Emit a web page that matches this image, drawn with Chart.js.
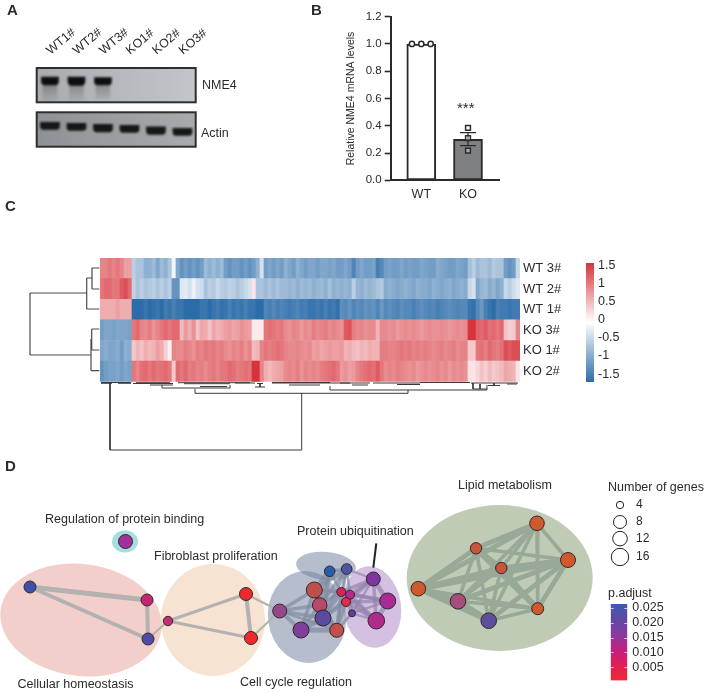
<!DOCTYPE html>
<html>
<head>
<meta charset="utf-8">
<script src="https://cdn.jsdelivr.net/npm/chart.js@4"></script>
<style>
  html, body { margin: 0; background: #fff; }
  #page { position: relative; width: 705px; height: 693px; overflow: hidden; font-family: "Liberation Sans", Arial, sans-serif; color: #2b2b2b; }
  #page canvas { position: absolute; left: 0; top: 0; }
  .t { position: absolute; white-space: nowrap; transform: translateY(-50%); line-height: 1; }
</style>
</head>
<body>
<div id="page"></div>
<script>
// A: blots, band edges are in px down from the top of each blot
const lanes = ['WT1#', 'WT2#', 'WT3#', 'KO1#', 'KO2#', 'KO3#'];
const nme4Bands = [[9, 17], [9, 17.5], [9.5, 17], null, null, null];
const nme4Smear = [[16, 33], [16, 33], [16, 31], null, null, null];
const actinBands = [[10, 17], [11, 18], [12, 19.5], [13, 20], [14.5, 22], [16, 23]];

// B: qPCR
const wtMean = 1.0;
const koMean = 0.3;
const koError = [0.255, 0.35];
const wtX = [-0.2, 0, 0.2];
const wtPoints = [1, 1, 1];
const koPoints = [0.385, 0.309, 0.218];
const groupTicks = ['WT', 'KO'];

// C: heatmap, top row first
const heatRows = ['WT 3#', 'WT 2#', 'WT 1#', 'KO 3#', 'KO 1#', 'KO 2#'];
const wt3 = [.9,.9,1,.9,1,.9,.7,.7, -.5,-.6,-.6,-.8,-.8,-.7,-.9,-.7,-.8,-.6, -.1,-.9, -1.1,-1,-1.1,-1,-1.1,-1, -.7,-.8,-.7,-.8,-.7, -1,-1.1,-1,-1,-1.1,-1,-1.1,-1, -.8,-.3, -1,-.9,-1,-.9,-1, -.8,-.9,-1,-.8,-.9,-1,-.9, -.9,-1,-.9,-.9,-.95,-.9,-1, -1,-.9,-1,-1.25,-1,-.9,-1,-1,-.95, -1.3,-1.2, -1,-.95,-1,-1,-.9,-1,-.95,-1,-1,-.9,-.95,-1,-1,-.85,-.9,-.95,-1,-1,-.9,-.95,-1, -.65,-.5, -.7,-.6,-.6,-.7,-.55,-.6,-.6, -1,-1.1,-1, -.4];
const wt2 = [1,1.1,1.1,1,1,1.2,1.3,1.1, -.45,-.6,-.5,-.6,-.55,-.5,-.6,-.5,-.6,-.5, -1.1,-1.1, -.25,-.2,-.3,-.15,-.3,-.35, -.6,-.5,-.55,-.4,-.5, -.55,-.45,-.5,-.6,-.5,-.4,-.3,.2, -.6,-.6, -.7,-.6,-.7,-.6,-.7, -.7,-.75,-.7,-.8,-.7,-.75,-.7, -.8,-.75,-.7,-.8,-.65,-.8,-.75, -.8,-.75,-.8,-.5,-.75,-.8,-.7,-.75,-.7, -.6,-.55, -.85,-.8,-.85,-.9,-.85,-.8,-.85,-.9,-.8,-.85,-.85,-.9,-.8,-.85,-.9,-.85,-.8,-.9,-.85,-.8,-.85, -.4,-.3, -.9,-.75,-.7,-.85,-.75,-.9,-.8, -.4,-.5,-.35, -.25];
const wt1 = [.6,.6,.6,.6,.7,.6,.6,.6, -1.5,-1.6,-1.5,-1.4,-1.5,-1.45,-1.4,-1.5,-1.35,-1.4, -1.3,-1.4, -1.4,-1.5,-1.6,-1.6,-1.5,-1.4, -1.4,-1.5,-1.4,-1.35,-1.45, -1.4,-1.3,-1.4,-1.35,-1.4,-1.3,-1.4,-1.4, -1.6,-1.6, -1.25,-1.3,-1.2,-1.3,-1.25, -1.3,-1.35,-1.3,-1.25,-1.35,-1.3,-1.4, -1.4,-1.35,-1.4,-1.3,-1.4,-1.35,-1.45, -1.15,-1.2,-1.1,-1.25,-1.15,-1.2,-1.1,-1.15,-1.1, -1.25,-1.05, -1.2,-1.15,-1.2,-1.25,-1.15,-1.2,-1.2,-1.3,-1.2,-1.15,-1.2,-1.25,-1.2,-1.3,-1.25,-1.2,-1.15,-1.2,-1.25,-1.2,-1.2, -1.4,-1.45, -1.2,-1.05,-1.3,-1.4,-1.5,-1.3,-1.35, -1.35,-1.4,-1.35, -1.35];
const ko3 = [-1,-.9,-.9,-.95,-.9,-.9,-.9,-.95, 1,1.1,.9,.85,.95,.8,.9,1,1.1,1, 1.1,1.1, .5,.75,.6,.8,.45,.65, .6,.45,.65,.55,.6, .7,.75,.65,.7,.8,.75,.7,.15, .15,.15, 1,1.05,1,.95,1, .85,.8,.9,.85,.75,.85,.8, .95,.85,.9,.95,.85,.9,.85, .8,1.2,1.25,.95,.85,.9,.8,.85,.85, .55,.85, .85,.8,.85,.75,.8,.85,.8,.85,.8,.75,.8,.85,.8,.8,.85,.8,.75,.8,.85,.8,.85, 1.6,1.55, 1.15,1.1,1.2,1.05,1.1,1,1.1, .45,.35,.4, .9];
const ko1 = [-.9,-.85,-.9,-.9,-.85,-1,-.8,-.85, .4,.55,.45,.6,.5,.55,.7,.6,.35,.1, .9,.85, .85,.95,.9,.8,.95,.9, 1,.95,1,.9,.95, .85,.8,.9,.85,.95,.8,.9,.5, .55,.9, 1,.95,1,1.05,1, .9,.85,.85,.9,.85,.8,.85, .7,.75,.65,.7,.75,.7,.7, .75,.55,.6,.5,.45,.55,.5,.6,.55, .55,.95, .95,.9,.9,.95,1,.95,1,.9,.95,.9,.95,.9,.85,.9,.95,.85,.9,.95,.85,.9,.9, .4,.4, 1,1.05,.95,1.1,1,.95,1.05, 1.3,1.2,1.3, 1.3];
const ko2 = [-1.1,-1,-.95,-.95,-.9,-1,-.9,-.95, 1,.9,1.05,1.1,1,1.1,1,1.05,1.1,1, .4,1.1, 1,1.1,.95,1,.9,.95, .85,.95,1,.9,1, 1,1.1,1.05,.95,1,1.05,1,1.6, 1.55,.9, .6,.5,.6,.65,.7, .85,.9,.85,.95,.8,.9,.85, .9,.85,.95,1,1.05,1.1,1, .75,.8,.7,.75,.9,1,1.05,1.1,1.05, 1.2,1, .85,.9,.85,.95,.9,.85,.8,.85,.75,.8,.85,.8,.85,.9,.8,.85,.75,.85,.8,.85,.8, .2,.2, .3,.45,.35,.5,.4,.45,.5, .65,.6,.55, .2];
const heatTicks = [1.5, 1, 0.5, 0, -0.5, -1, -1.5];

// C: dendrograms as [x1, y1, x2, y2]
const rowTree = [
  [30,293,30,355],[30,293,86.7,293],[30,355,91,355],
  [86.7,278,86.7,309],[86.7,309,99.3,309],[86.7,278,92,278],
  [92,268,92,289],[92,268,99.3,268],[92,289,99.3,289],
  [91,339,91,370.7],[91,370.7,99.3,370.7],[91.7,329,91.7,350],[91.7,329,99.3,329],[91.7,350,99.3,350]
];
const colTree = [
  [110,383,110,450],[110,450,301.7,450],[301.7,450,301.7,393.3],[195,393.3,408,393.3],
  [195,393.3,195,389],[162,388,230,388],[162,388,162,385],[230,388,230,385],
  [408,393.3,408,390],[330,390,487,390],[330,390,330,386],[487,390,487,385],
  [101,382.5,131,382.5],[101,383.3,112,383.3],[118,383.3,131,383.3],[133,383.5,173,383.5],[136,382.7,170,382.7],[150,385,173,385],[184,383.7,230,383.7],[178,382.7,250,382.7],
  [200,386.5,227,386.5],[235,383,255,383],[257,383.5,263,383.5],[260,383.5,260,387],[255,387,265,387],[272,383,350,383],[272,382.5,330,382.5],
  [289,385,320,385],[340,383,370,383],[352,385,368,385],[373,383,420,383],[397,384.5,420,384.5],
  [420,382.5,470,382.5],[471,383,518,383],[473,389,487,389],[473,383,473,389],
  [488,385.5,500,385.5],[507,384,517,384],[480,384,480,389],[494,383,494,386]
];

// D: enrichment map, node layout
const nodeX = [125.5,30,147,148,168,246,251,279.7,314.3,319.7,323,301,336.7,329.7,346.7,341.3,350,346,352,373.3,387.7,376.3,537,476,568,501.3,418.3,458,537.7,488.7];
const nodeY = [541.5,587,600,639,621,594,638,611,590,605,618,630,630.3,571.3,569,592,594.7,602,613.3,579,601,620.7,523.3,548.3,560,568,588.7,601.3,608.7,620.7];
const nodeR = [7,6,6,6,4.7,6.5,6.5,7,8,7.3,8,8,7,5.3,5.3,4.5,4.5,4.5,3.5,7,8,8.3,7.3,5.7,7.5,5.7,7.3,7.8,6,7.8];
const nodeColor = ['#a0309a','#3d4fa8','#c4256f','#4f4aa4','#c22f78','#ee2a2e','#ee2a2e','#944a8a','#bf4f4a','#b64a6a','#5a4aa0','#7e4098','#c0504a','#2a5ea8','#4d55a5','#d4245a','#b82a8a','#e52a4a','#6a3aa0','#7d35a0','#a82c94','#b02c8c','#cf5a2c','#c9553a','#d05a2c','#c9553a','#cf5a2c','#a84c7c','#cf5a2c','#5f4f9a'];
// edges: [from, to, weight]
const edgesOuter = [[1,2,5],[1,3,4],[2,3,4],[3,4,2],[4,5,3],[4,6,3],[5,6,4],[5,7,2],[6,7,2]];
const edgesCycle = [[7,8,3],[7,9,3],[7,10,3],[7,11,3],[7,12,2],[8,9,4],[8,10,4],[8,11,3],[8,12,3],[9,10,4],[9,11,3],[9,12,3],[10,11,4],[10,12,4],[11,12,4],[8,13,4],[8,14,3],[9,13,3],[9,14,3],[10,13,3],[10,14,3],[13,14,3],[12,14,2],[8,15,3],[9,15,3],[10,15,3],[10,16,2],[10,17,3],[12,17,3],[12,15,3],[12,18,2],[13,15,2],[14,15,2],[14,16,2],[15,16,2],[15,17,2],[16,17,2],[16,18,2],[17,18,2]];
const edgesUbiq = [[15,19,3],[16,19,3],[17,19,3],[18,19,2],[15,20,3],[16,20,3],[17,20,3],[18,20,2],[15,21,3],[16,21,3],[17,21,3],[18,21,2],[19,20,4],[19,21,3],[20,21,4],[14,19,2]];
const edgesLipid = [[22,23,4],[22,24,3],[22,25,3],[22,26,4],[22,27,3],[22,28,3],[22,29,3],[23,24,3],[23,25,4],[23,26,4],[23,27,3],[23,28,5],[23,29,3],[24,25,4],[24,26,5],[24,27,4],[24,28,4],[24,29,4],[25,26,4],[25,27,3],[25,28,4],[25,29,3],[26,27,4],[26,28,3],[26,29,4],[27,28,3],[27,29,5],[28,29,3]];
// cluster hulls: [cx, cy, rx, ry, tilt deg, fill]
const hulls = [
  [81,620,81,56,7,'rgba(230,160,150,.5)'],
  [213,620,52,56,0,'rgba(238,200,165,.5)'],
  [125,541.5,13,11,0,'rgba(75,190,190,.5)'],
  [307,617,39,46,-8,'rgba(110,125,155,.5)'],
  [326,566,30,14,5,'rgba(110,125,155,.5)'],
  [372,607,29,41,-8,'rgba(170,130,195,.5)'],
  [499.7,578,93,73,0,'rgba(128,152,108,.5)']
];
const geneCounts = [4, 8, 12, 16];
const geneY = [505, 522, 538.6, 557];
const geneR = [3.7, 6.5, 7.3, 8.7];
const pTicks = [0.025, 0.02, 0.015, 0.01, 0.005];

const page = document.getElementById('page');
Chart.defaults.font.family = '"Liberation Sans", Arial, sans-serif';
Chart.defaults.color = '#2b2b2b';
Chart.defaults.animation = false;
Chart.defaults.responsive = false;
Chart.defaults.plugins.legend.display = false;
Chart.defaults.plugins.tooltip.enabled = false;

function canvas() {
  const c = document.createElement('canvas');
  c.width = 705;
  c.height = 693;
  page.appendChild(c);
  return c;
}
// pins the plot area to a rectangle of the page. The axis gets a fixed size, so
// the padding on that side leaves out what the axis takes
const area = (l, t, r, b, side, size) => {
  const p = { left: l, top: t, right: 705 - r, bottom: 693 - b };
  if (side) p[side] -= size;
  return { padding: p, autoPadding: false };
};
const sized = n => s => { if (s.isHorizontal()) s.height = n; else s.width = n; };
const setTicks = vals => s => { s.ticks = vals.map(v => ({ value: v })); };
const noAxis = { display: false };

// A
const blot = {
  id: 'blot',
  beforeDatasetsDraw(chart, args, o) {
    const { ctx, chartArea: a } = chart;
    const g = ctx.createLinearGradient(a.left, 0, a.right, 0);
    g.addColorStop(0, o.from);
    g.addColorStop(1, o.to);
    ctx.save();
    ctx.fillStyle = g;
    ctx.fillRect(a.left, a.top, a.width, a.height);
    ctx.restore();
    ctx.save();
    ctx.filter = 'blur(1.2px)';
  },
  afterDatasetsDraw(chart) {
    const { ctx, chartArea: a } = chart;
    ctx.restore();
    ctx.save();
    ctx.strokeStyle = '#2e2e2e';
    ctx.lineWidth = 2;
    ctx.strokeRect(a.left, a.top, a.width, a.height);
    ctx.restore();
  }
};
function smearFill(c) {
  const a = c.chart.chartArea;
  if (!a) return 'rgba(60,60,60,.3)';
  const g = c.chart.ctx.createLinearGradient(0, a.top + 14, 0, a.bottom);
  g.addColorStop(0, 'rgba(50,50,50,.38)');
  g.addColorStop(1, 'rgba(90,90,90,.06)');
  return g;
}
new Chart(canvas(), {
  type: 'bar',
  plugins: [blot],
  data: {
    labels: lanes,
    datasets: [
      { data: nme4Bands, backgroundColor: '#0c0e10', barThickness: 17, borderRadius: 5, grouped: false, order: 0 },
      { data: nme4Smear, backgroundColor: smearFill, barThickness: 14, grouped: false, order: 1 }
    ]
  },
  options: {
    layout: area(36.7, 68, 195.7, 102.3, 'top', 60),
    plugins: { blot: { from: '#a8acae', to: '#c2c6c8' } },
    scales: {
      x: {
        position: 'top', afterFit: sized(60),
        grid: { display: false, drawTicks: false }, border: { display: false },
        ticks: { minRotation: 40, maxRotation: 40, autoSkip: false, padding: 10, labelOffset: 8, font: { size: 12.5 }, color: '#2b2b2b' }
      },
      y: { display: false, reverse: true, min: 0, max: 34.3 }
    }
  }
});
new Chart(canvas(), {
  type: 'bar',
  plugins: [blot],
  data: {
    labels: lanes,
    datasets: [{ data: actinBands, backgroundColor: '#141618', barThickness: 19, borderRadius: 4 }]
  },
  options: {
    layout: area(36.7, 112.3, 195.7, 146.7),
    plugins: { blot: { from: '#8e9294', to: '#a8abad' } },
    scales: { x: noAxis, y: { display: false, reverse: true, min: 0, max: 34.4 } }
  }
});

// B
const ink = '#2a2a2a';
const errorTrack = [
  { x: 0.83, y: koError[1] }, { x: 1.17, y: koError[1] }, { x: NaN, y: NaN },
  { x: 0.83, y: koError[0] }, { x: 1.17, y: koError[0] }, { x: NaN, y: NaN },
  { x: 1, y: koError[0] }, { x: 1, y: koError[1] }
];
new Chart(canvas(), {
  type: 'bar',
  data: {
    datasets: [
      { type: 'scatter', data: wtPoints.map((v, i) => ({ x: wtX[i], y: v })), pointStyle: 'circle', pointRadius: 2.6, pointBackgroundColor: '#fff', pointBorderColor: ink, pointBorderWidth: 1.5, order: 0 },
      { type: 'scatter', data: koPoints.map(v => ({ x: 1, y: v })), pointStyle: 'rect', pointRadius: 3.4, pointBackgroundColor: 'rgba(255,255,255,.35)', pointBorderColor: ink, pointBorderWidth: 1.5, order: 1 },
      { type: 'scatter', data: errorTrack, showLine: true, pointRadius: 0, borderColor: ink, borderWidth: 1.3, order: 2 },
      { data: [{ x: 0, y: wtMean }, { x: 1, y: koMean }], backgroundColor: ['#fff', '#7f8082'], borderColor: ink, borderWidth: 2, barThickness: 29, borderSkipped: false, order: 3 }
    ]
  },
  options: {
    layout: area(344.7, 16.7, 500, 180.3, 'bottom', 25),
    scales: {
      x: {
        type: 'linear', offset: false, min: -0.655, max: 1.685, afterFit: sized(25),
        afterBuildTicks: setTicks([0, 1]),
        grid: { display: false, drawTicks: false }, border: { color: ink, width: 2 },
        ticks: { padding: 7, font: { size: 12.5 }, callback: v => groupTicks[v] }
      },
      y: {
        min: 0, max: 1.2, afterFit: sized(46),
        grid: { drawOnChartArea: false, tickLength: 6, tickColor: ink, tickWidth: 1.6 }, border: { color: ink, width: 2 },
        ticks: { stepSize: 0.2, padding: 3, font: { size: 11.5 }, callback: v => v.toFixed(1) },
        title: { display: true, text: 'Relative NME4 mRNA levels', font: { size: 10.5 }, padding: 0 }
      }
    }
  }
});

// C
const heatStops = { neg: [44, 108, 168], pos: [214, 51, 58] };
function heatColor(v) {
  const to = v < 0 ? heatStops.neg : heatStops.pos;
  const k = Math.min(Math.abs(v) / 1.5, 1);
  return 'rgb(' + to.map(c => Math.round(255 + (c - 255) * k)).join(',') + ')';
}
const heatValues = [wt3, wt2, wt1, ko3, ko1, ko2];
new Chart(canvas(), {
  type: 'bar',
  data: {
    labels: wt3.map((v, i) => i),
    // bottom row goes first in the stack
    datasets: heatValues.slice().reverse().map(row => ({
      data: row.map(() => 1),
      backgroundColor: row.map(heatColor),
      barPercentage: 1,
      categoryPercentage: 1
    }))
  },
  options: {
    layout: area(100, 258, 520, 381.7, 'right', 60),
    scales: {
      x: { stacked: true, display: false },
      y: {
        stacked: true, position: 'right', min: 0, max: 6, afterFit: sized(60),
        afterBuildTicks: setTicks([0.5, 1.5, 2.5, 3.5, 4.5, 5.5]),
        grid: { display: false, drawTicks: false }, border: { display: false },
        ticks: { padding: 3, font: { size: 13 }, callback: v => heatRows[5 - Math.floor(v)] }
      }
    }
  }
});

function barGradient(stops) {
  return c => {
    const a = c.chart.chartArea;
    if (!a) return stops[0];
    const g = c.chart.ctx.createLinearGradient(0, a.bottom, 0, a.top);
    stops.forEach((s, i) => g.addColorStop(i / (stops.length - 1), s));
    return g;
  };
}
new Chart(canvas(), {
  type: 'bar',
  data: {
    labels: ['z'],
    datasets: [{ data: [[-1.72, 1.58]], backgroundColor: barGradient(['#2c6ca8', '#ffffff', '#d6333a']), barPercentage: 1, categoryPercentage: 1, borderSkipped: false }]
  },
  options: {
    layout: area(586, 263, 594, 382, 'right', 50),
    scales: {
      x: noAxis,
      y: {
        position: 'right', min: -1.72, max: 1.58, afterFit: sized(50),
        afterBuildTicks: setTicks(heatTicks),
        grid: { display: false, drawTicks: false }, border: { display: false },
        ticks: { padding: 4, font: { size: 12.5 }, callback: v => String(v) }
      }
    }
  }
});

// dendrograms
function segTrack(segs) {
  const out = [];
  segs.forEach(s => {
    out.push({ x: s[0], y: s[1] }, { x: s[2], y: s[3] }, { x: NaN, y: NaN });
  });
  return out;
}
const pageScales = {
  x: { type: 'linear', display: false, min: 0, max: 705 },
  y: { type: 'linear', display: false, min: 0, max: 693, reverse: true }
};
new Chart(canvas(), {
  type: 'scatter',
  data: {
    datasets: [
      { data: segTrack(rowTree), showLine: true, pointRadius: 0, borderColor: '#4a4a4a', borderWidth: 1.2 },
      { data: segTrack(colTree), showLine: true, pointRadius: 0, borderColor: '#3a3a3a', borderWidth: 1 }
    ]
  },
  options: { layout: { autoPadding: false }, scales: pageScales }
});

// D
const hullPlugin = {
  id: 'hulls',
  beforeDatasetsDraw(chart) {
    const { ctx, scales } = chart;
    ctx.save();
    hulls.forEach(h => {
      ctx.beginPath();
      ctx.ellipse(scales.x.getPixelForValue(h[0]), scales.y.getPixelForValue(h[1]), h[2], h[3], h[4] * Math.PI / 180, 0, Math.PI * 2);
      ctx.fillStyle = h[5];
      ctx.fill();
    });
    ctx.restore();
  }
};
const edgeSets = (edges, color, thick) => edges.map(e => ({
  type: 'scatter',
  showLine: true,
  pointRadius: 0,
  borderColor: color,
  borderWidth: e[2] * thick,
  data: [{ x: nodeX[e[0]], y: nodeY[e[0]] }, { x: nodeX[e[1]], y: nodeY[e[1]] }],
  order: 5
}));
new Chart(canvas(), {
  type: 'bubble',
  plugins: [hullPlugin],
  data: {
    datasets: [
      { data: nodeX.map((x, i) => ({ x, y: nodeY[i], r: nodeR[i] })), backgroundColor: nodeColor, borderColor: '#33262e', borderWidth: 1, order: 0 },
      { data: geneCounts.map((g, i) => ({ x: 620, y: geneY[i], r: geneR[i] })), backgroundColor: '#fff', borderColor: '#222', borderWidth: 1, order: 0 },
      { type: 'scatter', showLine: true, pointRadius: 0, borderColor: '#222', borderWidth: 2, data: [{ x: 376.3, y: 543.3 }, { x: 373.3, y: 567.7 }], order: 1 },
      ...edgeSets(edgesOuter, '#b4b2b1', 1),
      ...edgeSets(edgesCycle, 'rgba(130,140,162,.7)', 1.25),
      ...edgeSets(edgesUbiq, 'rgba(145,130,172,.65)', 1.2),
      ...edgeSets(edgesLipid, '#98a998', 1.2)
    ]
  },
  options: { layout: { autoPadding: false }, scales: pageScales }
});

// little white marks on the p.adjust bar
const pMarks = {
  id: 'pMarks',
  afterDatasetsDraw(chart) {
    const { ctx, chartArea: a, scales } = chart;
    ctx.save();
    ctx.strokeStyle = 'rgba(255,255,255,.7)';
    pTicks.forEach(v => {
      const y = Math.round(scales.y.getPixelForValue(v)) + 0.5;
      ctx.beginPath();
      ctx.moveTo(a.left, y);
      ctx.lineTo(a.left + 3, y);
      ctx.moveTo(a.right - 3, y);
      ctx.lineTo(a.right, y);
      ctx.stroke();
    });
    ctx.restore();
  }
};
new Chart(canvas(), {
  type: 'bar',
  plugins: [pMarks],
  data: {
    labels: ['p'],
    datasets: [{ data: [[0.0006, 0.02625]], backgroundColor: barGradient(['#ee2a30', '#e01f55', '#c41f80', '#8a3a9e', '#5f48a5', '#3d5cb0']), barPercentage: 1, categoryPercentage: 1, borderSkipped: false }]
  },
  options: {
    layout: area(610.7, 604, 627.3, 686, 'right', 50),
    scales: {
      x: noAxis,
      y: {
        position: 'right', min: 0.0006, max: 0.02625, afterFit: sized(50),
        afterBuildTicks: setTicks(pTicks),
        grid: { display: false, drawTicks: false }, border: { display: false },
        ticks: { padding: 5, font: { size: 12.5 }, callback: v => v.toFixed(3) }
      }
    }
  }
});

// text that belongs to no axis
function label(text, x, y, size, weight) {
  const d = document.createElement('div');
  d.className = 't';
  d.textContent = text;
  d.style.left = x + 'px';
  d.style.top = y + 'px';
  d.style.fontSize = size + 'px';
  if (weight) d.style.fontWeight = weight;
  page.appendChild(d);
}
label('A', 7, 9, 15, 'bold');
label('B', 311, 9, 15, 'bold');
label('C', 5, 205, 15, 'bold');
label('D', 5, 465, 15, 'bold');
label('NME4', 202, 85, 12.5);
label('Actin', 201, 133, 12.5);
label('***', 457, 107, 15);
label('Regulation of protein binding', 45, 519, 12.5);
label('Fibroblast proliferation', 154, 556, 12.5);
label('Cellular homeostasis', 17.5, 684, 12.5);
label('Cell cycle regulation', 240, 682, 12.5);
label('Protein ubiquitination', 297, 531, 12.5);
label('Lipid metabolism', 458, 485, 12.5);
label('Number of genes', 608, 487, 12.5);
label('p.adjust', 608, 593, 12.5);
geneCounts.forEach((g, i) => label(String(g), 636, geneY[i] - 1, 12));
</script>
</body>
</html>
